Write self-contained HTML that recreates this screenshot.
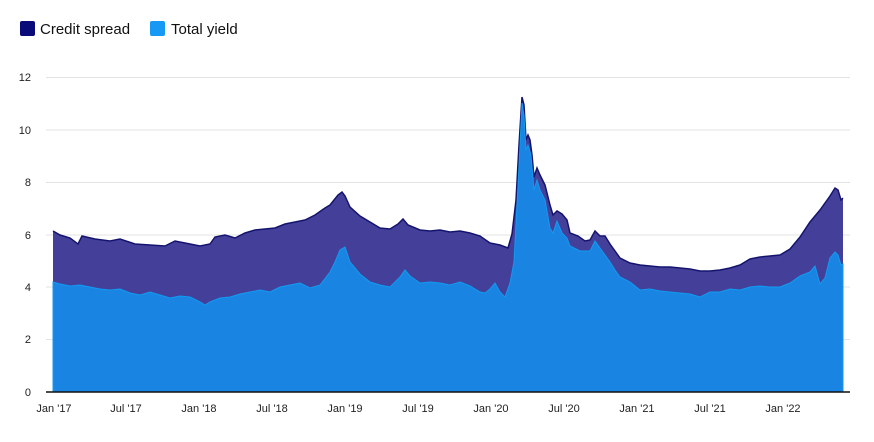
<!DOCTYPE html>
<html><head><meta charset="utf-8"><style>
body{margin:0;background:#fff;font-family:"Liberation Sans",sans-serif;}
</style></head><body>
<svg width="874" height="437" xmlns="http://www.w3.org/2000/svg" font-family="Liberation Sans, sans-serif">
<rect x="20" y="21" width="15" height="15" rx="2" fill="#0a0a78"/>
<text x="40" y="34" font-size="15" fill="#111">Credit spread</text>
<rect x="150" y="21" width="15" height="15" rx="2" fill="#1599f5"/>
<text x="171" y="34" font-size="15" fill="#111">Total yield</text>
<g stroke="#e3e3e3" stroke-width="1">
<line x1="46" x2="850" y1="77.5" y2="77.5"/><line x1="46" x2="850" y1="130" y2="130"/><line x1="46" x2="850" y1="182.5" y2="182.5"/><line x1="46" x2="850" y1="235" y2="235"/><line x1="46" x2="850" y1="287" y2="287"/><line x1="46" x2="850" y1="339.5" y2="339.5"/>
</g>
<g font-size="11" fill="#222" text-anchor="end">
<text x="31" y="81">12</text><text x="31" y="134">10</text><text x="31" y="186">8</text><text x="31" y="239">6</text><text x="31" y="291">4</text><text x="31" y="343">2</text><text x="31" y="396">0</text>
</g>
<polygon fill="#44409a" points="53,392 53,231 60,235 70,238 78,244 82,236 95,239 110,241 120,239 135,244 150,245 165,246 175,241 185,243 200,246 210,244 215,237 225,235 235,238 245,233 255,230 265,229 275,228 285,224 295,222 305,220 315,215 325,208 330,205 338,195 342,192 345,196 350,207 360,216 370,222 380,228 390,229 398,224 403,219 408,225 420,230 430,231 440,230 450,232 460,231 470,233 480,236 490,243 500,245 508,248 512,234 516,200 519,145 522,97 524,105 526,140 528,135 530,140 532,155 534,177 537,168 540,175 545,185 550,205 553,215 557,211 562,214 567,220 570,233 578,236 585,241 590,240 595,231 600,236 605,236 610,244 615,251 620,258 630,263 640,265 650,266 660,267 670,267 680,268 690,269 700,271 710,271 720,270 730,268 740,265 750,259 760,257 770,256 780,255 790,249 800,237 810,222 820,210 830,196 835,188 838,190 841,200 843,198 843,392"/>
<polyline fill="none" stroke="#14146e" stroke-width="1.5" points="53,231 60,235 70,238 78,244 82,236 95,239 110,241 120,239 135,244 150,245 165,246 175,241 185,243 200,246 210,244 215,237 225,235 235,238 245,233 255,230 265,229 275,228 285,224 295,222 305,220 315,215 325,208 330,205 338,195 342,192 345,196 350,207 360,216 370,222 380,228 390,229 398,224 403,219 408,225 420,230 430,231 440,230 450,232 460,231 470,233 480,236 490,243 500,245 508,248 512,234 516,200 519,145 522,97 524,105 526,140 528,135 530,140 532,155 534,177 537,168 540,175 545,185 550,205 553,215 557,211 562,214 567,220 570,233 578,236 585,241 590,240 595,231 600,236 605,236 610,244 615,251 620,258 630,263 640,265 650,266 660,267 670,267 680,268 690,269 700,271 710,271 720,270 730,268 740,265 750,259 760,257 770,256 780,255 790,249 800,237 810,222 820,210 830,196 835,188 838,190 841,200 843,198"/>
<polygon fill="#1a84e2" stroke="#119bf2" stroke-width="1" points="53,392 53,282 60,284 70,286 80,285 90,287 100,289 110,290 120,289 130,293 140,295 150,292 160,295 170,298 180,296 190,297 200,302 205,305 210,302 220,298 230,297 240,294 250,292 260,290 270,292 280,287 290,285 300,283 310,288 320,285 330,272 335,262 340,250 345,247 350,262 360,274 370,282 380,285 390,287 400,277 405,270 410,276 420,283 430,282 440,283 450,285 460,282 470,286 480,292 485,293 490,289 495,283 500,292 505,297 510,283 514,262 517,205 520,145 522,103 524,115 526,150 528,145 531,155 534,190 537,180 540,190 545,200 550,228 553,233 557,221 562,233 567,238 570,246 580,251 590,251 595,241 600,248 605,255 610,262 615,270 620,277 630,282 640,290 650,289 660,291 670,292 680,293 690,294 700,297 710,292 720,292 730,289 740,290 750,287 760,286 770,287 780,287 790,283 800,276 810,272 815,266 820,284 825,278 830,258 835,252 838,255 841,265 843,264 843,392"/>
<line x1="46" x2="850" y1="392" y2="392" stroke="#111" stroke-width="1.5"/>
<g font-size="11" fill="#222" text-anchor="middle">
<text x="54" y="412">Jan '17</text><text x="126" y="412">Jul '17</text><text x="199" y="412">Jan '18</text><text x="272" y="412">Jul '18</text><text x="345" y="412">Jan '19</text><text x="418" y="412">Jul '19</text><text x="491" y="412">Jan '20</text><text x="564" y="412">Jul '20</text><text x="637" y="412">Jan '21</text><text x="710" y="412">Jul '21</text><text x="783" y="412">Jan '22</text>
</g>
</svg>
</body></html>
